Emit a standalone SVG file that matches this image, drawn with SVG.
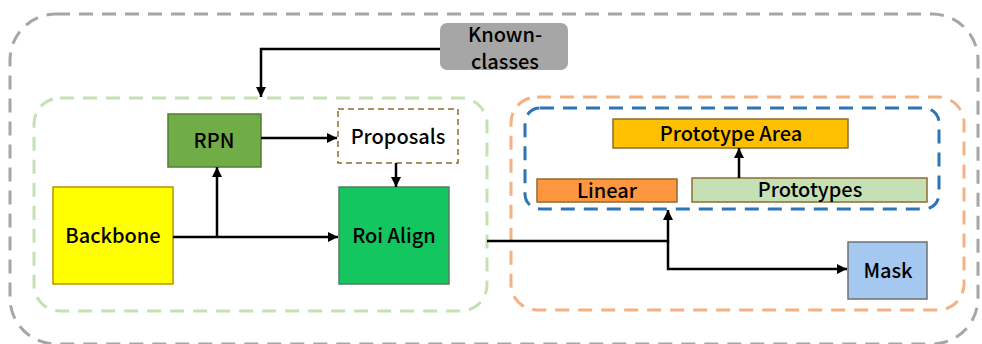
<svg xmlns="http://www.w3.org/2000/svg" width="982" height="344" viewBox="0 0 982 344">
<defs>
<marker id="ah" viewBox="0 0 10 10" refX="10" refY="5" markerWidth="4" markerHeight="4" orient="auto" markerUnits="strokeWidth">
<path d="M0,0 L10,5 L0,10 z" fill="#000"/>
</marker>
<style>
text{font-family:"Noto Sans CJK SC","Noto Sans",sans-serif;font-weight:500;font-size:20px;fill:#000;text-anchor:middle;dominant-baseline:central}
.c{fill:none;stroke:#000;stroke-width:2.5}
.grp{fill:none;stroke-width:3;stroke-dasharray:14 9}
.box{stroke-width:1.5}
</style>
</defs>
<rect width="982" height="344" fill="#fff"/>
<g id="groups">
<rect class="grp" x="10" y="14" width="968" height="330" rx="46" stroke="#a6a6a6"/>
<rect class="grp" x="34" y="98" width="453" height="213" rx="26" stroke="#c5e0b4"/>
<rect class="grp" x="511" y="97" width="453" height="213" rx="26" stroke="#f4b183"/>
<rect class="grp" x="525" y="108" width="414" height="101" rx="15" stroke="#2e75b6"/>
</g>
<g id="known">
<rect x="440" y="23" width="128" height="47" rx="7" fill="#a6a6a6"/>
<text x="505" y="33">Known-</text>
<text x="505" y="60">classes</text>
</g>
<g id="rpn">
<rect class="box" x="168" y="114" width="93" height="53" fill="#70ad47" stroke="#507e32"/>
<text x="214" y="139">RPN</text>
</g>
<g id="proposals">
<rect x="338" y="109" width="120" height="54" fill="#fff" stroke="#8c6d2c" stroke-width="1.5" stroke-dasharray="6 4"/>
<text x="398" y="135">Proposals</text>
</g>
<g id="backbone">
<rect class="box" x="53" y="187" width="120" height="97" fill="#ffff00" stroke="#bf9000"/>
<text x="113" y="234">Backbone</text>
</g>
<g id="roialign">
<rect class="box" x="339" y="187" width="110" height="97" fill="#13c65f" stroke="#5a7a66"/>
<text x="394" y="234">Roi Align</text>
</g>
<g id="prototypearea">
<rect class="box" x="613" y="119" width="235" height="29" fill="#ffc000" stroke="#8c6d2c"/>
<text x="731" y="132">Prototype Area</text>
</g>
<g id="linear">
<rect class="box" x="537" y="179" width="140" height="23" fill="#ff9640" stroke="#8c6d2c"/>
<text x="607" y="189">Linear</text>
</g>
<g id="prototypes">
<rect class="box" x="692" y="178" width="235" height="24" fill="#c5e0b4" stroke="#8c6d2c"/>
<text x="810" y="188">Prototypes</text>
</g>
<g id="mask">
<rect class="box" x="848" y="242" width="79" height="57" fill="#a4c8f0" stroke="#707070"/>
<text x="888" y="269">Mask</text>
</g>
<g id="connectors">
<path class="c" d="M440,49 H261 V97" marker-end="url(#ah)"/>
<path class="c" d="M173,237 H338" marker-end="url(#ah)"/>
<path class="c" d="M217,237 V167" marker-end="url(#ah)"/>
<path class="c" d="M261,138 H337" marker-end="url(#ah)"/>
<path class="c" d="M396,163 V187" marker-end="url(#ah)"/>
<path class="c" d="M739,178 V148" marker-end="url(#ah)"/>
<path class="c" d="M487,241 H668 V210" marker-end="url(#ah)"/>
<path class="c" d="M668,241 V269 H847" marker-end="url(#ah)"/>
</g>
</svg>
